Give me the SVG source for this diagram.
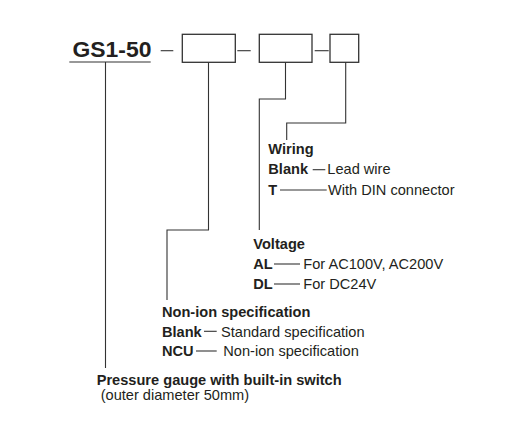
<svg xmlns="http://www.w3.org/2000/svg" width="507" height="424" viewBox="0 0 507 424">
<style>
.t{font-family:"Liberation Sans",Arial,sans-serif;font-size:14.6px;fill:#231f20}
.b{font-weight:bold}
.ln{fill:none;stroke:#333;stroke-width:1.1}
.bx{fill:#fff;stroke:#333;stroke-width:1.3}
</style>
<rect width="507" height="424" fill="#fff"/>
<g id="title">
<text x="72.5" y="56.5" class="t b" style="font-size:22.8px" textLength="79" lengthAdjust="spacingAndGlyphs">GS1-50</text>
<line x1="69.3" y1="62" x2="150.7" y2="62" class="ln"/>
</g>
<g id="box1"><rect x="182.3" y="34.3" width="53" height="28" class="bx"/></g>
<g id="box2"><rect x="259.3" y="34.3" width="52.7" height="28" class="bx"/></g>
<g id="box3"><rect x="330" y="34.3" width="28.7" height="28" class="bx"/></g>
<g id="connectors">
<line x1="160.7" y1="50.7" x2="173.3" y2="50.7" class="ln"/>
<line x1="237.3" y1="50.7" x2="250.7" y2="50.7" class="ln"/>
<line x1="314.7" y1="50.7" x2="328.7" y2="50.7" class="ln"/>
<polyline points="345.7,62.3 345.7,123 286.7,123 286.7,140" class="ln"/>
<polyline points="285.5,62.3 285.5,99 259.3,99 259.3,230" class="ln"/>
<polyline points="208.5,62.3 208.5,230 167,230 167,300" class="ln"/>
<line x1="105.5" y1="62" x2="105.5" y2="368" class="ln"/>
</g>
<g id="wiring">
<text x="268.3" y="154.3" class="t b">Wiring</text>
<text x="268.3" y="174.3" class="t b">Blank</text>
<line x1="312.7" y1="169.7" x2="325.3" y2="169.7" class="ln"/>
<text x="327.3" y="174.3" class="t">Lead wire</text>
<text x="268.3" y="195" class="t b">T</text>
<line x1="280" y1="190" x2="326.7" y2="190" class="ln"/>
<text x="328" y="195" class="t">With DIN connector</text>
</g>
<g id="voltage">
<text x="253.3" y="249" class="t b">Voltage</text>
<text x="253.3" y="269.3" class="t b">AL</text>
<line x1="274" y1="264" x2="300" y2="264" class="ln"/>
<text x="303.3" y="269.3" class="t">For AC100V, AC200V</text>
<text x="253.3" y="289" class="t b">DL</text>
<line x1="274" y1="284" x2="300" y2="284" class="ln"/>
<text x="303.3" y="289" class="t">For DC24V</text>
</g>
<g id="nonion">
<text x="162" y="316.7" class="t b">Non-ion specification</text>
<text x="162" y="336.7" class="t b">Blank</text>
<line x1="204" y1="331.3" x2="216.7" y2="331.3" class="ln"/>
<text x="221" y="336.7" class="t">Standard specification</text>
<text x="162" y="356" class="t b">NCU</text>
<line x1="196" y1="351" x2="216.7" y2="351" class="ln"/>
<text x="223.3" y="356" class="t">Non-ion specification</text>
</g>
<g id="product">
<text x="96.7" y="385" class="t b">Pressure gauge with built-in switch</text>
<text x="100.7" y="400" class="t">(outer diameter 50mm)</text>
</g>
</svg>
